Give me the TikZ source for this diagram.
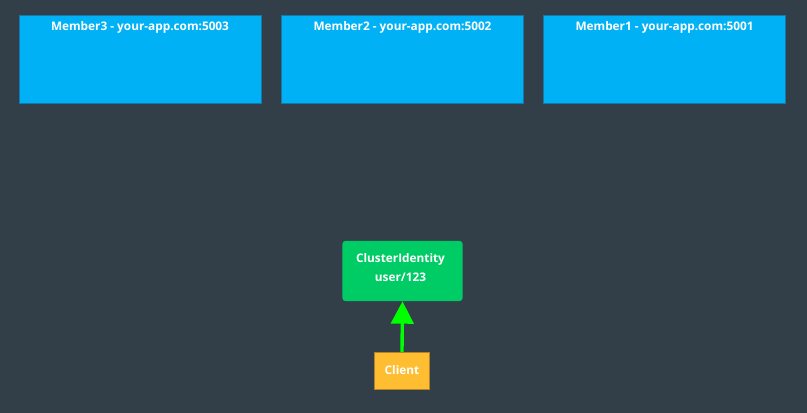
\documentclass[tikz,border=0pt]{standalone}
\usepackage{fontspec}
\setmainfont{Open Sans}
\usetikzlibrary{arrows.meta, positioning, calc}

\definecolor{bgdark}{RGB}{51,63,72}
\definecolor{memberblue}{RGB}{0,178,245}
\definecolor{memberedge}{RGB}{20,120,170}
\definecolor{identgreen}{RGB}{0,204,102}
\definecolor{clientyellow}{RGB}{255,190,50}
\definecolor{clientedge}{RGB}{180,130,40}
\definecolor{arrowgreen}{RGB}{0,255,0}

\begin{document}
\begin{tikzpicture}[
    x=0.025cm, y=-0.025cm,
    member/.style={
        rectangle, draw=memberedge, fill=memberblue,
        minimum width=6.05cm, minimum height=2.2cm,
        inner sep=0pt
    },
    boxtext/.style={
        text=white, align=center,
        font=\fontsize{8.4}{13}\selectfont\bfseries
    },
    identity/.style={
        rectangle, rounded corners=2pt, fill=identgreen,
        minimum width=3.0cm, minimum height=1.5cm,
        inner sep=0pt
    },
    client/.style={
        rectangle, draw=clientedge, fill=clientyellow,
        minimum width=1.38cm, minimum height=0.92cm,
        text=white, font=\fontsize{8.4}{10}\selectfont\bfseries
    },
    arrow/.style={-{Triangle[length=5.6mm, width=5.6mm]}, line width=2.4pt, draw=arrowgreen}
]

% --- background ---
\fill[bgdark] (0,0) rectangle (807,413);
\useasboundingbox (0,0) rectangle (807,413);

% --- cluster members ---
\node[member] (m3) at (140,59) {};
\node[member] (m2) at (402.5,59) {};
\node[member] (m1) at (664.5,59) {};
\node[boxtext] (m3label) at (140,27.5) {Member3 - your-app.com:5003};
\node[boxtext] (m2label) at (402.5,27.5) {Member2 - your-app.com:5002};
\node[boxtext] (m1label) at (664.5,27.5) {Member1 - your-app.com:5001};

% --- identity and client ---
\node[identity] (ident) at (402.5,271) {};
\node[boxtext] (identlabel) at (400.5,267.5) {ClusterIdentity\\user/123};
\node[client] (client) at (402,370.5) {Client};

\draw[arrow] (client.north) -- (ident.south);

\end{tikzpicture}
\end{document}
